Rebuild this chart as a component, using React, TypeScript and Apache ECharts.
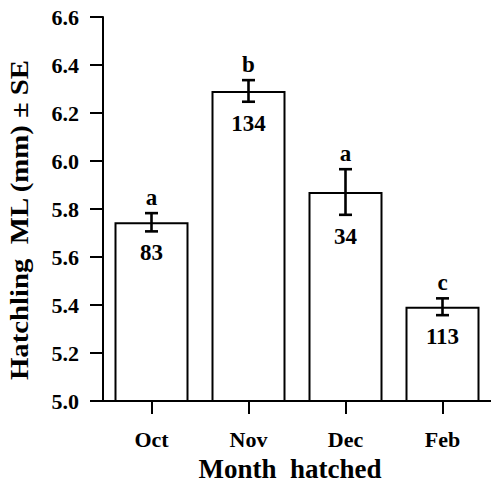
import React, { useEffect, useRef } from "react";
import * as echarts from "echarts";

const categories = ["Oct", "Nov", "Dec", "Feb"];
const means = [5.745, 6.292, 5.871, 5.393];
const stdErrors = [0.038, 0.045, 0.095, 0.035];
const counts = [83, 134, 34, 113];
const letters = ["a", "b", "a", "c"];
const yTicks = { min: 5.0, max: 6.6, interval: 0.2 };
const xTitle = "Month  hatched";
const yTitle = "Hatchling  ML (mm) ± SE";

const FONT = '"Liberation Serif", "Times New Roman", serif';

export default function App() {
  const ref = useRef<HTMLDivElement>(null);
  useEffect(() => {
    if (!ref.current) return;
    const chart = echarts.init(ref.current, undefined, { renderer: "svg" });
    const customData = categories.map((c, i) => [i, means[i], stdErrors[i], letters[i], counts[i]]);
    chart.setOption({
      animation: false,
      backgroundColor: "#fff",
      grid: { left: 103, right: -2, top: 17, bottom: 81.5, containLabel: false },
      graphic: [
        {
          type: "text",
          x: 20,
          y: 220,
          rotation: Math.PI / 2,
          scaleX: 1.15,
          style: {
            text: yTitle,
            align: "center",
            verticalAlign: "middle",
            fontSize: 25,
            fontWeight: "bold",
            fontFamily: FONT,
            fill: "#000",
          },
        },
      ],
      xAxis: {
        type: "category",
        data: categories,
        axisLine: { show: true, lineStyle: { color: "#000", width: 2 } },
        axisTick: { show: true, alignWithLabel: true, length: 13, lineStyle: { color: "#000", width: 2 } },
        axisLabel: { margin: 27, fontSize: 22, fontWeight: "bold", fontFamily: FONT, color: "#000" },
        name: xTitle,
        nameLocation: "middle",
        nameGap: 52,
        nameTextStyle: { fontSize: 27, fontWeight: "bold", fontFamily: FONT, color: "#000", padding: [0, 14, 0, 0] },
      },
      yAxis: {
        type: "value",
        min: yTicks.min,
        max: yTicks.max,
        interval: yTicks.interval,
        axisLine: { show: true, lineStyle: { color: "#000", width: 2 } },
        axisTick: { show: true, length: 13, lineStyle: { color: "#000", width: 2 } },
        splitLine: { show: false },
        axisLabel: {
          margin: 24,
          fontSize: 22,
          fontWeight: "bold",
          fontFamily: FONT,
          color: "#000",
          formatter: (v: number) => v.toFixed(1),
        },
      },
      series: [
        {
          type: "bar",
          data: means,
          barWidth: 74,
          itemStyle: { color: "#fff", borderColor: "#000", borderWidth: 2 },
          z: 2,
        },
        {
          type: "custom",
          data: customData,
          z: 5,
          renderItem: (params: any, api: any) => {
            const idx = api.value(0);
            const m = api.value(1);
            const s = api.value(2);
            const letter = letters[params.dataIndex];
            const n = counts[params.dataIndex];
            const hi = api.coord([idx, m + s]);
            const lo = api.coord([idx, m - s]);
            const x = hi[0];
            const cap = 6.5;
            const stroke = { stroke: "#000", lineWidth: 2.6 };
            return {
              type: "group",
              children: [
                { type: "line", shape: { x1: x, y1: hi[1], x2: x, y2: lo[1] }, style: stroke },
                { type: "line", shape: { x1: x - cap, y1: hi[1], x2: x + cap, y2: hi[1] }, style: stroke },
                { type: "line", shape: { x1: x - cap, y1: lo[1], x2: x + cap, y2: lo[1] }, style: stroke },
                {
                  type: "text",
                  style: {
                    text: letter,
                    x: x,
                    y: hi[1] - 4,
                    align: "center",
                    verticalAlign: "bottom",
                    fontSize: 23,
                    fontWeight: "bold",
                    fontFamily: FONT,
                    fill: "#000",
                  },
                },
                {
                  type: "text",
                  style: {
                    text: String(n),
                    x: x,
                    y: lo[1] + 10,
                    align: "center",
                    verticalAlign: "top",
                    fontSize: 23,
                    fontWeight: "bold",
                    fontFamily: FONT,
                    fill: "#000",
                  },
                },
              ],
            };
          },
        },
      ],
    });
    return () => chart.dispose();
  }, []);
  return <div ref={ref} style={{ position: "fixed", left: 0, top: 0, width: 491, height: 487 }} />;
}
